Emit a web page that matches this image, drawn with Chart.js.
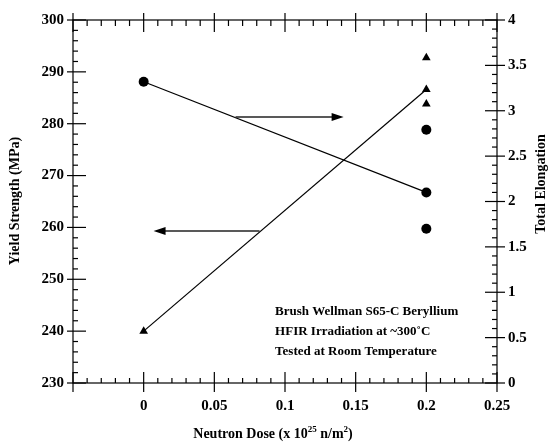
<!DOCTYPE html>
<html>
<head>
<meta charset="utf-8">
<script src="https://cdn.jsdelivr.net/npm/chart.js@4.4.1/dist/chart.umd.min.js"></script>
<style>
  html, body { margin: 0; padding: 0; background: #fff; }
  #wrap { width: 550px; height: 444px; }
</style>
</head>
<body>
<div id="wrap"><canvas id="c" width="550" height="444"></canvas></div>
<script>
// data
const doseValues = [0, 0.2, 0.2, 0.2]
const yieldStrength = [240, 292.7, 286.6, 283.8]
const elongation = [3.32, 2.79, 2.10, 1.70]
// trend lines join the unirradiated point and the middle value at 0.2
const yieldLine = [[0, 240], [0.2, 286.6]]
const elongLine = [[0, 3.32], [0.2, 2.10]]
// arrows, in dose / yield-strength units: [x from, x to, y]
const arrows = [
  [0.065, 0.1415, 281.3],
  [0.082, 0.007, 259.3],
]
const noteLines = ["Brush Wellman S65-C Beryllium", "HFIR Irradiation at ~300˚C", "Tested at Room Temperature"]

const FONT = "'Liberation Serif', 'Times New Roman', serif"

const pts = (xs, ys) => xs.map((v, i) => ({ x: v, y: ys[i] }))
const linePts = (arr) => arr.map((p) => ({ x: p[0], y: p[1] }))

// frame, inner minor ticks and crossing major ticks
const frameTicks = {
  id: "frameTicks",
  afterDraw(chart) {
    const { ctx, chartArea: a, scales } = chart
    const { x, y, y2 } = scales
    const seg = (x1, y1, x2, y2_) => {
      ctx.beginPath()
      ctx.moveTo(x1, y1)
      ctx.lineTo(x2, y2_)
      ctx.stroke()
    }
    ctx.save()
    ctx.strokeStyle = "#000"
    ctx.lineWidth = 1.2
    ctx.strokeRect(a.left, a.top, a.right - a.left, a.bottom - a.top)

    for (let i = 0; i <= 30; i++) {
      const px = x.getPixelForValue(-0.05 + i * 0.01)
      const major = i % 5 === 0
      seg(px, a.bottom - (major ? 11 : 5), px, a.bottom + (major ? 9 : 0))
      seg(px, a.top + (major ? 12 : 6), px, a.top - (major ? 7 : 0))
    }
    for (let i = 0; i <= 35; i++) {
      const py = y.getPixelForValue(230 + i * 2)
      const major = i % 5 === 0
      seg(a.left - (major ? 6 : 0), py, a.left + (major ? 13 : 5), py)
    }
    for (let i = 0; i <= 40; i++) {
      const py = y2.getPixelForValue(i * 0.1)
      const major = i % 5 === 0
      seg(a.right - (major ? 12 : 5), py, a.right + (major ? 8 : 0), py)
    }
    ctx.restore()
  },
}

// arrows, note text and axis titles
const annotations = {
  id: "annotations",
  afterDatasetsDraw(chart) {
    const { ctx, chartArea: a, scales } = chart
    const { x, y } = scales
    ctx.save()
    arrows.forEach(([x0, x1, v]) => {
      const p0 = x.getPixelForValue(x0)
      const p1 = x.getPixelForValue(x1)
      const py = y.getPixelForValue(v)
      const dir = Math.sign(p1 - p0)
      ctx.strokeStyle = "#222"
      ctx.lineWidth = 1.5
      ctx.beginPath()
      ctx.moveTo(p0, py)
      ctx.lineTo(p1 - dir * 10, py)
      ctx.stroke()
      ctx.fillStyle = "#000"
      ctx.beginPath()
      ctx.moveTo(p1, py)
      ctx.lineTo(p1 - dir * 12, py - 4)
      ctx.lineTo(p1 - dir * 12, py + 4)
      ctx.closePath()
      ctx.fill()
    })

    ctx.fillStyle = "#000"
    ctx.font = "bold 13px " + FONT
    ctx.textAlign = "left"
    ctx.textBaseline = "alphabetic"
    const tx = x.getPixelForValue(0.093)
    noteLines.forEach((t, i) => ctx.fillText(t, tx, 315 + i * 20))

    // axis titles
    ctx.font = "bold 14px " + FONT
    ctx.textAlign = "center"
    ctx.textBaseline = "middle"
    ctx.save()
    ctx.translate(15, 201)
    ctx.rotate(-Math.PI / 2)
    ctx.fillText("Yield Strength (MPa)", 0, 0)
    ctx.restore()
    ctx.save()
    ctx.translate(541, 184)
    ctx.rotate(-Math.PI / 2)
    ctx.fillText("Total Elongation", 0, 0)
    ctx.restore()

    // x title with superscripts
    const parts = [
      ["Neutron Dose (x 10", 14, 0],
      ["25", 9, -6],
      [" n/m", 14, 0],
      ["2", 9, -6],
      [")", 14, 0],
    ]
    ctx.textAlign = "left"
    ctx.textBaseline = "alphabetic"
    let total = 0
    parts.forEach(([t, s]) => {
      ctx.font = "bold " + s + "px " + FONT
      total += ctx.measureText(t).width
    })
    let cx = 273 - total / 2
    parts.forEach(([t, s, dy]) => {
      ctx.font = "bold " + s + "px " + FONT
      ctx.fillText(t, cx, 438 + dy)
      cx += ctx.measureText(t).width
    })
    ctx.restore()
  },
}

const tickFont = { family: FONT, size: 15, weight: "bold" }

new Chart(document.getElementById("c"), {
  type: "scatter",
  data: {
    datasets: [
      {
        data: linePts(yieldLine),
        yAxisID: "y",
        showLine: true,
        borderColor: "#000",
        borderWidth: 1.2,
        pointRadius: 0,
      },
      {
        data: linePts(elongLine),
        yAxisID: "y2",
        showLine: true,
        borderColor: "#000",
        borderWidth: 1.2,
        pointRadius: 0,
      },
      {
        data: pts(doseValues, yieldStrength),
        yAxisID: "y",
        pointStyle: "triangle",
        pointRadius: 5,
        backgroundColor: "#000",
        borderColor: "#000",
        borderWidth: 0,
      },
      {
        data: pts(doseValues, elongation),
        yAxisID: "y2",
        pointStyle: "circle",
        pointRadius: 5,
        backgroundColor: "#000",
        borderColor: "#000",
        borderWidth: 0,
      },
    ],
  },
  options: {
    responsive: false,
    animation: false,
    events: [],
    layout: { padding: { top: 17, left: 0, right: 0, bottom: 0 } },
    plugins: { legend: { display: false }, tooltip: { enabled: false } },
    scales: {
      x: {
        type: "linear",
        min: -0.05,
        max: 0.25,
        grid: { display: false, drawTicks: false },
        border: { display: false },
        afterFit: (s) => { s.height = 61 },
        ticks: {
          stepSize: 0.05,
          padding: 14,
          color: "#000",
          font: tickFont,
          callback: (v) => (v < -0.01 ? "" : String(Math.round(v * 100) / 100)),
        },
      },
      y: {
        position: "left",
        min: 230,
        max: 300,
        grid: { display: false, drawTicks: false },
        border: { display: false },
        afterFit: (s) => { s.width = 73 },
        ticks: { stepSize: 10, padding: 9, color: "#000", font: tickFont },
      },
      y2: {
        position: "right",
        min: 0,
        max: 4,
        grid: { display: false, drawTicks: false },
        border: { display: false },
        afterFit: (s) => { s.width = 53 },
        ticks: {
          stepSize: 0.5,
          padding: 11,
          color: "#000",
          font: tickFont,
          callback: (v) => String(v),
        },
      },
    },
  },
  plugins: [frameTicks, annotations],
})
</script>
</body>
</html>
